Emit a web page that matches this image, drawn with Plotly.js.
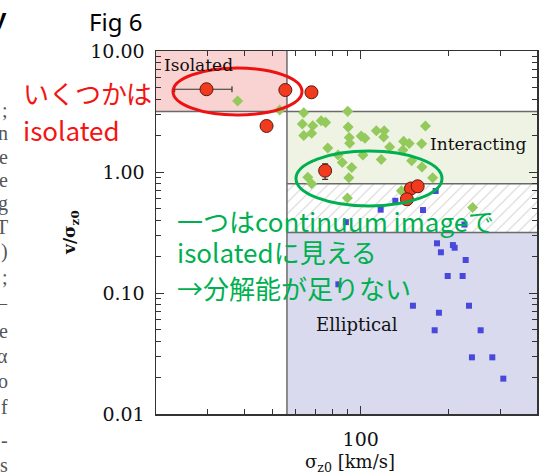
<!DOCTYPE html>
<html>
<head>
<meta charset="utf-8">
<script src="https://cdn.plot.ly/plotly-3.0.1.min.js"></script>
<style>
  html, body { margin: 0; padding: 0; background: #ffffff; }
  #chart { width: 542px; height: 476px; }
</style>
</head>
<body>
<div id="chart"></div>
<script>
// ---------------- data ----------------
// axis extents
const sigmaRange = [20, 400];
const vRange = [0.01, 10];
// classification thresholds
const sigmaCut = 56;
const vIsolated = 3.16;
const vInteracting = 0.8;
const vElliptical = 0.316;

// Interacting sample (green diamonds)
const diamondSigma = [38.0, 52.9, 63.9, 90.3, 63.2, 68.6, 73.3, 75.9, 63.9, 68.0,
  90.6, 91.4, 91.7, 100.4, 103.4, 113.1, 120.3, 119.8, 166.4, 125.6,
  140.2, 146.4, 161.5, 139.4, 77.2, 83.7, 101.8, 117.5, 86.5, 93.2,
  91.1, 66.0, 68.0, 149.3, 161.9, 176.1, 90.1, 137.7, 241.1];
const diamondV = [3.86, 3.25, 3.09, 3.17, 2.49, 2.41, 2.65, 2.57, 2.00, 2.09,
  2.35, 1.93, 1.73, 1.98, 1.90, 2.19, 2.19, 1.95, 2.40, 1.61,
  1.79, 1.72, 1.71, 1.52, 1.58, 1.38, 1.38, 1.27, 1.20, 1.09,
  0.896, 0.904, 0.80, 1.24, 1.10, 0.896, 0.61, 0.70, 0.509];

// Elliptical sample (blue squares)
const squareSigma = [182.2, 187.9, 206.5, 209.3, 228.3, 198.2, 222.9, 83.9, 150.8, 234.3,
  185.0, 178.9, 256.8, 239.8, 281.5, 306.9, 226.1, 89.0, 117.0, 131.3, 163.2, 180.3];
const squareV = [0.2575, 0.217, 0.249, 0.2367, 0.1874, 0.1382, 0.1382, 0.118, 0.0785, 0.0785,
  0.0687, 0.0492, 0.0492, 0.0294, 0.0294, 0.0196, 0.368, 0.385, 0.488, 0.578, 0.485, 0.697];

// Observed objects (red circles)
const circleSigma = [29.75, 55.3, 67.9, 47.7, 75.6, 148.5, 156.5, 143.8];
const circleV = [4.83, 4.76, 4.56, 2.40, 1.025, 0.731, 0.762, 0.595];
const circleSigmaErr = [6.6, null, null, null, null, null, null, null];
const circleVErrPlus = [null, null, null, null, 0.14, null, null, null];
const circleVErrMinus = [null, null, null, null, 0.155, null, null, null];

// tick labels
const yTickVals = [0.01, 0.1, 1, 10];
const yTickText = ['0.01', '0.10', '1.00', '10.00'];
const xTickVals = [100];
const xTickText = ['100'];
const xMinorVals = [30, 40, 50, 60, 70, 80, 90, 200, 300];
const yMinorVals = [0.02,0.03,0.04,0.05,0.06,0.07,0.08,0.09,
                    0.2,0.3,0.4,0.5,0.6,0.7,0.8,0.9,
                    2,3,4,5,6,7,8,9];

// ---------------- geometry helpers ----------------
function rect(x0, x1, y0, y1) {
  return { x: [x0, x1, x1, x0, x0], y: [y0, y0, y1, y1, y0] };
}
const rIso = rect(sigmaRange[0], sigmaCut, vIsolated, vRange[1]);
const rInt = rect(sigmaCut, sigmaRange[1], vInteracting, vIsolated);
const rHat = rect(sigmaCut, sigmaRange[1], vElliptical, vInteracting);
const rEll = rect(sigmaCut, sigmaRange[1], vRange[0], vElliptical);

const serif = 'DejaVu Serif, Liberation Serif, serif';
const jp = 'Noto Sans CJK JP, Noto Sans, sans-serif';

const traces = [
  { type: 'scatter', mode: 'lines', x: rIso.x, y: rIso.y, fill: 'toself',
    fillcolor: '#f9d2d2', line: { width: 0 }, hoverinfo: 'skip', showlegend: false },
  { type: 'scatter', mode: 'lines', x: rInt.x, y: rInt.y, fill: 'toself',
    fillcolor: '#eff3e3', line: { width: 0 }, hoverinfo: 'skip', showlegend: false },
  { type: 'scatter', mode: 'lines', x: rHat.x, y: rHat.y, fill: 'toself',
    fillcolor: '#ffffff',
    fillpattern: { shape: '/', fgcolor: '#d2d2d2', bgcolor: '#ffffff', size: 8, solidity: 0.12 },
    line: { width: 0 }, hoverinfo: 'skip', showlegend: false },
  { type: 'scatter', mode: 'lines', x: rEll.x, y: rEll.y, fill: 'toself',
    fillcolor: '#d9daee', line: { width: 0 }, hoverinfo: 'skip', showlegend: false },
  // boundary lines
  { type: 'scatter', mode: 'lines',
    x: [sigmaRange[0], sigmaRange[1], null, sigmaCut, sigmaCut, null,
        sigmaCut, sigmaRange[1], null, sigmaCut, sigmaRange[1]],
    y: [vIsolated, vIsolated, null, vRange[0], vRange[1], null,
        vInteracting, vInteracting, null, vElliptical, vElliptical],
    line: { color: '#6a6a6a', width: 1.5 }, hoverinfo: 'skip', showlegend: false },
  { type: 'scatter', mode: 'markers', x: diamondSigma, y: diamondV,
    marker: { symbol: 'diamond', size: 8.5, color: '#94c95c' }, showlegend: false },
  { type: 'scatter', mode: 'markers', x: squareSigma, y: squareV,
    marker: { symbol: 'square', size: 6, color: '#4848dc' }, showlegend: false },
  { type: 'scatter', mode: 'markers', x: circleSigma, y: circleV,
    error_x: { type: 'data', array: circleSigmaErr, color: '#333333', thickness: 1.2, width: 3 },
    error_y: { type: 'data', symmetric: false, array: circleVErrPlus, arrayminus: circleVErrMinus,
               color: '#333333', thickness: 1.2, width: 3 },
    marker: { symbol: 'circle', size: 13, color: '#f23a1e', line: { color: '#5a1a0c', width: 1 } },
    showlegend: false }
];

// pixel -> paper helpers for free-floating slide annotations
const L = 156, R = 537, T = 51, B = 414;
const px = (x) => (x - L) / (R - L);
const py = (y) => (B - y) / (B - T);

const edgeChars = [[';', 110], ['n', 133], ['e', 157], ['e', 180], ['g', 203], ['T', 227],
  [')', 252], [';', 277], ['–', 303], ['e', 331], ['α', 356], ['o', 381], ['f', 407], ['-', 440], ['s', 465]];

const annotations = [
  { text: 'Isolated', x: px(162), y: py(65), xref: 'paper', yref: 'paper', xanchor: 'left', yanchor: 'middle',
    showarrow: false, font: { family: serif, size: 17, color: '#111' } },
  { text: 'Interacting', x: px(428), y: py(144), xref: 'paper', yref: 'paper', xanchor: 'left', yanchor: 'middle',
    showarrow: false, font: { family: serif, size: 17, color: '#111' } },
  { text: 'Elliptical', x: px(314), y: py(324), xref: 'paper', yref: 'paper', xanchor: 'left', yanchor: 'middle',
    showarrow: false, font: { family: serif, size: 18, color: '#111' } },
  { text: '<b>v/σ<sub>z0</sub></b>', x: px(71), y: py(233), xref: 'paper', yref: 'paper', textangle: -90,
    xanchor: 'center', yanchor: 'middle', showarrow: false, font: { family: serif, size: 17, color: '#111' } },
  { text: 'σ<sub>z0</sub> [km/s]', x: px(350), y: py(463), xref: 'paper', yref: 'paper',
    xanchor: 'center', yanchor: 'middle', showarrow: false, font: { family: serif, size: 18, color: '#111' } },
  { text: 'Fig 6', x: px(87), y: py(21), xref: 'paper', yref: 'paper', xanchor: 'left', yanchor: 'middle',
    showarrow: false, font: { family: 'Noto Sans, sans-serif', size: 24, color: '#000' } },
  { text: 'いくつかは', x: px(21), y: py(93), xref: 'paper', yref: 'paper', xanchor: 'left', yanchor: 'middle',
    showarrow: false, font: { family: jp, size: 26, color: '#f51414' } },
  { text: 'isolated', x: px(21), y: py(129), xref: 'paper', yref: 'paper', xanchor: 'left', yanchor: 'middle',
    showarrow: false, font: { family: jp, size: 26, color: '#f51414' } },
  { text: '一つはcontinuum imageで', x: px(175), y: py(221), xref: 'paper', yref: 'paper', xanchor: 'left', yanchor: 'middle',
    showarrow: false, font: { family: jp, size: 26, color: '#00b050' } },
  { text: 'isolatedに見える', x: px(175), y: py(252), xref: 'paper', yref: 'paper', xanchor: 'left', yanchor: 'middle',
    showarrow: false, font: { family: jp, size: 26, color: '#00b050' } },
  { text: '→分解能が足りない', x: px(175), y: py(287), xref: 'paper', yref: 'paper', xanchor: 'left', yanchor: 'middle',
    showarrow: false, font: { family: jp, size: 26, color: '#00b050' } },
  { text: '<b>y</b>', x: px(9), y: py(18), xref: 'paper', yref: 'paper', xanchor: 'right', yanchor: 'middle',
    showarrow: false, font: { family: 'Liberation Sans, sans-serif', size: 26, color: '#000' } }
];
edgeChars.forEach(([c, y]) => {
  annotations.push({ text: c, x: px(10), y: py(y), xref: 'paper', yref: 'paper', xanchor: 'right', yanchor: 'middle',
    showarrow: false, font: { family: 'Liberation Serif, serif', size: 20, color: '#555' } });
});

const layout = {
  width: 542, height: 476,
  margin: { l: L, r: 542 - R, t: T, b: 476 - B, pad: 0 },
  paper_bgcolor: '#ffffff', plot_bgcolor: '#ffffff',
  showlegend: false,
  xaxis: {
    type: 'log', range: [Math.log10(sigmaRange[0]), Math.log10(sigmaRange[1])],
    tickmode: 'array', tickvals: xTickVals, ticktext: xTickText,
    ticks: 'inside', ticklen: 8, tickwidth: 1, tickcolor: '#333',
    minor: { tickmode: 'array', tickvals: xMinorVals, ticks: 'inside', ticklen: 5, tickwidth: 1, tickcolor: '#333', showgrid: false },
    showline: true, linecolor: '#333', linewidth: 1.5, mirror: 'ticks',
    showgrid: false, zeroline: false, ticklabelstandoff: 8,
    tickfont: { family: serif, size: 19, color: '#111' }
  },
  yaxis: {
    type: 'log', range: [Math.log10(vRange[0]), Math.log10(vRange[1])],
    tickmode: 'array', tickvals: yTickVals, ticktext: yTickText,
    ticks: 'inside', ticklen: 8, tickwidth: 1, tickcolor: '#333',
    minor: { tickmode: 'array', tickvals: yMinorVals, ticks: 'inside', ticklen: 5, tickwidth: 1, tickcolor: '#333', showgrid: false },
    showline: true, linecolor: '#333', linewidth: 1.5, mirror: 'ticks',
    showgrid: false, zeroline: false, ticklabelstandoff: 6,
    tickfont: { family: serif, size: 19, color: '#111' }
  },
  shapes: [
    { type: 'circle', xref: 'paper', yref: 'paper', layer: 'above',
      x0: px(173), x1: px(302), y0: py(115), y1: py(68),
      line: { color: '#ee1111', width: 3 } },
    { type: 'circle', xref: 'paper', yref: 'paper', layer: 'above',
      x0: px(296), x1: px(442), y0: py(206), y1: py(151),
      line: { color: '#00b050', width: 3 } }
  ],
  annotations: annotations
};

Plotly.newPlot('chart', traces, layout, { displayModeBar: false, staticPlot: true });
</script>
</body>
</html>
